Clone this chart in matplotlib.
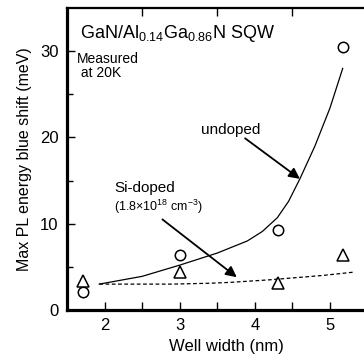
import matplotlib
matplotlib.use('Agg')
import matplotlib.pyplot as plt

plt.rcParams['font.family'] = ['Liberation Sans', 'DejaVu Sans']
plt.rcParams['mathtext.fontset'] = 'custom'
plt.rcParams['mathtext.rm'] = 'Liberation Sans'
plt.rcParams['mathtext.it'] = 'Liberation Sans:italic'

# measured points (well width nm, blue shift meV)
undoped_w = [1.71, 3.0, 4.31, 5.17]
undoped_shift = [2.1, 6.4, 9.3, 30.5]
sidoped_w = [1.71, 3.0, 4.31, 5.17]
sidoped_shift = [3.4, 4.4, 3.1, 6.4]

# guide curves
undoped_curve_w = [1.93, 2.5, 3.0, 3.5, 3.9, 4.1, 4.3, 4.45, 4.6, 4.8, 5.0, 5.17]
undoped_curve_y = [3.0, 3.9, 5.2, 6.6, 8.0, 9.1, 10.7, 12.6, 15.2, 19.0, 23.4, 28.0]
sidoped_curve_w = [1.93, 2.9, 3.4, 3.67, 4.2, 4.9, 5.33]
sidoped_curve_y = [3.0, 3.0, 3.1, 3.2, 3.5, 4.0, 4.4]

fig = plt.figure(figsize=(3.64, 3.61), dpi=100)
ax = fig.add_axes([67/364, 51/361, 300.5/364, 302/361])

ax.plot(undoped_curve_w, undoped_curve_y, color='black', lw=0.9)
ax.plot(sidoped_curve_w, sidoped_curve_y, color='black', lw=0.9, ls=(0, (3, 2)))
ax.plot(undoped_w, undoped_shift, ls='none', marker='o', ms=7.5,
        mfc='white', mec='black', mew=1.1)
ax.plot(sidoped_w, sidoped_shift, ls='none', marker='^', ms=9,
        mfc='white', mec='black', mew=1.1)

ax.set_xlim(1.5, 5.5)
ax.set_ylim(0, 35)
ax.set_xticks([2, 3, 4, 5])
ax.set_xticks([2.5, 3.5, 4.5], minor=True)
ax.set_yticks([0, 10, 20, 30])
ax.set_yticks([5, 15, 25], minor=True)
ax.tick_params(which='both', direction='in', labelsize=12, width=1.0)
ax.tick_params(which='major', length=6, pad=6)
ax.tick_params(which='minor', length=4)
ax.tick_params(axis='x', which='minor', top=True, length=6)

for s in ['left', 'bottom']:
    ax.spines[s].set_linewidth(2.3)
ax.spines['top'].set_linewidth(1.6)
ax.spines['right'].set_visible(False)

ax.set_xlabel('Well width (nm)', fontsize=12, labelpad=2)
ax.xaxis.set_label_coords(0.53, -0.095)
ax.set_ylabel('Max PL energy blue shift (meV)', fontsize=11.5, labelpad=6)

ax.text(0.043, 0.90, r'GaN/Al$_{0.14}$Ga$_{0.86}$N SQW', transform=ax.transAxes,
        fontsize=13, va='baseline')
ax.text(0.033, 0.855, 'Measured\n at 20K', transform=ax.transAxes,
        fontsize=10, va='top', linespacing=1.0)

ax.text(3.68, 20.9, 'undoped', fontsize=11, ha='center', va='center')
ax.text(2.13, 14.1, 'Si-doped', fontsize=11, ha='left', va='center')
ax.text(2.13, 12.0, r'(1.8$\times$10$^{18}$ cm$^{-3}$)', fontsize=9, ha='left', va='center')

arrow = dict(arrowstyle='-|>', color='black', lw=1.3, mutation_scale=16, shrinkA=0, shrinkB=0)
ax.annotate('', xy=(4.6, 15.2), xytext=(3.87, 19.9), arrowprops=arrow)
ax.annotate('', xy=(3.76, 3.8), xytext=(2.77, 10.5), arrowprops=arrow)

plt.savefig('out.png', dpi=100)
